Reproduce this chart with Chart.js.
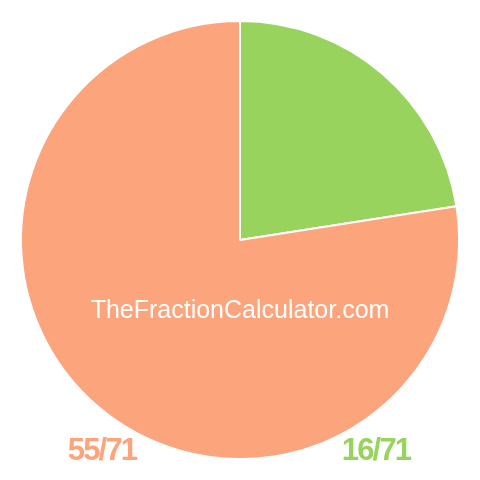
<!DOCTYPE html>
<html>
<head>
<meta charset="utf-8">
<script src="https://cdn.jsdelivr.net/npm/chart.js@4"></script>
<style>
	html, body { margin: 0; padding: 0; background: #fff; }
	#box { width: 480px; height: 480px; }
</style>
</head>
<body>
<div id="box"><canvas id="fractionPie"></canvas></div>
<script>
// data
const labels = ['16/71', '55/71'];
const values = [16, 55];
const colors = ['#98d35e', '#fca47c'];
const watermark = 'TheFractionCalculator.com';

// draws the watermark and the two fraction labels
const textBits = {
	id: 'textBits',
	afterDraw(chart) {
		const ctx = chart.ctx;
		const arc = chart.getDatasetMeta(0).data[0];
		const cx = arc.x;
		const cy = arc.y;
		ctx.save();
		ctx.textAlign = 'center';
		ctx.textBaseline = 'middle';
		ctx.fillStyle = '#ffffff';
		ctx.font = '25px "Liberation Sans", Arial, sans-serif';
		ctx.fillText(watermark, cx, cy + 71);

		ctx.font = 'bold 31px "Liberation Sans", Arial, sans-serif';
		ctx.textAlign = 'left';
		if ('letterSpacing' in ctx) ctx.letterSpacing = '-1.8px';
		const drawLabel = (text, x) => {
			const w = ctx.measureText(text).width;
			ctx.fillText(text, x - w / 2, 451);
		};
		// green label right, orange label left
		ctx.fillStyle = colors[0];
		drawLabel(labels[0], cx + 136);
		ctx.fillStyle = colors[1];
		drawLabel(labels[1], cx - 138);
		ctx.restore();
	},
};

window.addEventListener('DOMContentLoaded', () => {
	const ctx = document.getElementById('fractionPie').getContext('2d');
	const fractionPie = new Chart(ctx, {
		type: 'pie',
		data: {
			labels: labels,
			datasets: [{
				data: values,
				backgroundColor: colors,
				borderColor: '#ffffff',
				borderWidth: 2,
			}],
		},
		options: {
			responsive: true,
			maintainAspectRatio: false,
			animation: false,
			layout: { padding: 20 },
			plugins: {
				legend: { display: false },
				tooltip: { enabled: false },
			},
		},
		plugins: [textBits],
	});
});
</script>
</body>
</html>
